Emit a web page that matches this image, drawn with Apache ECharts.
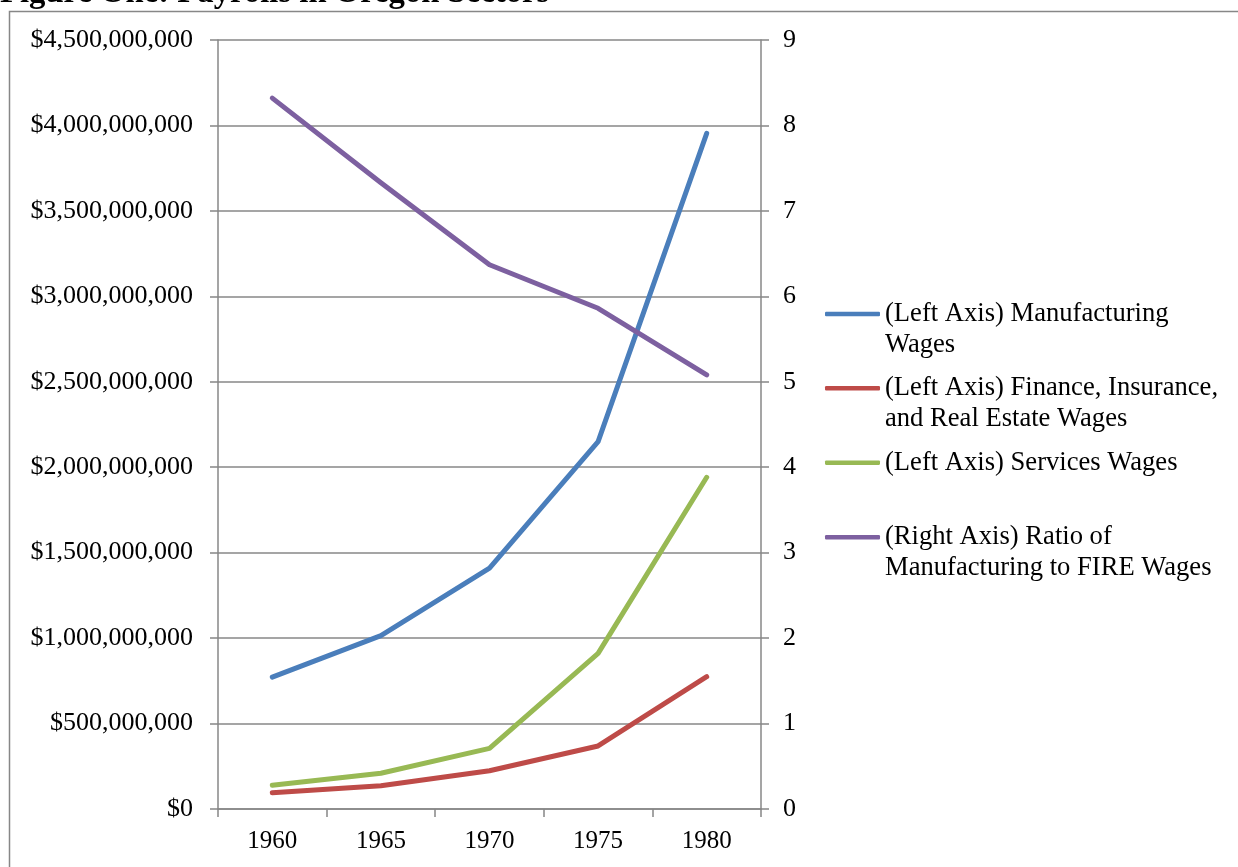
<!DOCTYPE html>
<html>
<head>
<meta charset="utf-8">
<title>Figure One: Payrolls in Oregon Sectors</title>
<script src="https://cdn.jsdelivr.net/npm/echarts@6/dist/echarts.min.js"></script>
<style>
  html, body { margin: 0; padding: 0; background: #fff; }
  #chart { width: 1238px; height: 867px; }
</style>
</head>
<body>
<div id="chart"></div>
<script>
// Oregon payrolls by sector, 1960-1980 (dollars), and the manufacturing / FIRE ratio
const years = ['1960', '1965', '1970', '1975', '1980'];
const manufacturingWages = [772e6, 1015e6, 1410e6, 2150e6, 3954e6];
const fireWages = [95e6, 136e6, 224e6, 369e6, 774e6];
const servicesWages = [139e6, 209e6, 355e6, 911e6, 1941e6];
const mfgToFireRatio = [8.32, 7.33, 6.37, 5.86, 5.08];

const seriesNames = [
  '(Left Axis) Manufacturing Wages',
  '(Left Axis) Finance, Insurance, and Real Estate Wages',
  '(Left Axis) Services Wages',
  '(Right Axis) Ratio of Manufacturing to FIRE Wages'
];
// wrapped legend text; a leading blank line keeps the swatch level with the first line
const legendText = [
  '\n(Left Axis) Manufacturing\nWages',
  '\n(Left Axis) Finance, Insurance,\nand Real Estate Wages',
  '(Left Axis) Services Wages',
  '\n(Right Axis) Ratio of\nManufacturing to FIRE Wages'
];
const colors = ['#4A7EBB', '#BE4B48', '#98B954', '#7D60A0'];
const legendTops = [267.5, 341.8, 447.2, 490.8];

const FONT = '"Liberation Serif", "Times New Roman", serif';
const GREY = '#878787';

const chart = echarts.init(document.getElementById('chart'), null, { renderer: 'canvas' });

function lineSeries(i, data, axis) {
  return {
    name: seriesNames[i],
    type: 'line',
    yAxisIndex: axis,
    data: data,
    symbol: 'none',
    smooth: false,
    lineStyle: { color: colors[i], width: 5, cap: 'round', join: 'round' },
    itemStyle: { color: colors[i] },
    emphasis: { disabled: true }
  };
}

chart.setOption({
  animation: false,
  backgroundColor: '#fff',
  color: colors,
  title: {
    text: 'Figure One: Payrolls in Oregon Sectors',
    left: 0,
    top: -22.5,
    padding: 0,
    textStyle: { fontFamily: FONT, fontWeight: 'bold', fontSize: 32.7, color: '#000' }
  },
  graphic: [{
    type: 'rect',
    silent: true,
    z: -1,
    shape: { x: 9.5, y: 11.5, width: 1400, height: 1000 },
    style: { fill: 'none', stroke: GREY, lineWidth: 1.5 }
  }],
  grid: { left: 218, right: 477, top: 40, bottom: 58, containLabel: false },
  legend: seriesNames.map((name, i) => ({
    data: [name],
    orient: 'vertical',
    left: 825,
    top: legendTops[i],
    padding: 0,
    icon: 'roundRect',
    itemWidth: 55,
    itemHeight: 4.5,
    selectedMode: false,
    formatter: () => legendText[i],
    textStyle: { fontFamily: FONT, fontSize: 26.6, lineHeight: 31, color: '#000' }
  })),
  xAxis: {
    type: 'category',
    data: years,
    boundaryGap: true,
    axisLine: { lineStyle: { color: GREY, width: 1.5 } },
    axisTick: { show: true, length: 8, lineStyle: { color: GREY, width: 1.5 } },
    axisLabel: { margin: 20, fontFamily: FONT, fontSize: 25, color: '#000' },
    splitLine: { show: false }
  },
  yAxis: [{
    type: 'value',
    position: 'left',
    min: 0,
    max: 4500000000,
    interval: 500000000,
    axisLine: { show: true, lineStyle: { color: GREY, width: 1.5 } },
    axisTick: { show: true, length: 8, lineStyle: { color: GREY, width: 1.5 } },
    axisLabel: {
      margin: 25,
      fontFamily: FONT, fontSize: 26, color: '#000',
      formatter: v => '$' + Math.round(v).toLocaleString('en-US')
    },
    splitLine: { show: true, lineStyle: { color: GREY, width: 1.5 } }
  }, {
    type: 'value',
    position: 'right',
    min: 0,
    max: 9,
    interval: 1,
    axisLine: { show: true, lineStyle: { color: GREY, width: 1.5 } },
    axisTick: { show: true, length: 8, lineStyle: { color: GREY, width: 1.5 } },
    axisLabel: { margin: 22, fontFamily: FONT, fontSize: 26, color: '#000' },
    splitLine: { show: false }
  }],
  series: [
    lineSeries(0, manufacturingWages, 0),
    lineSeries(1, fireWages, 0),
    lineSeries(2, servicesWages, 0),
    lineSeries(3, mfgToFireRatio, 1)
  ]
});
</script>
</body>
</html>
